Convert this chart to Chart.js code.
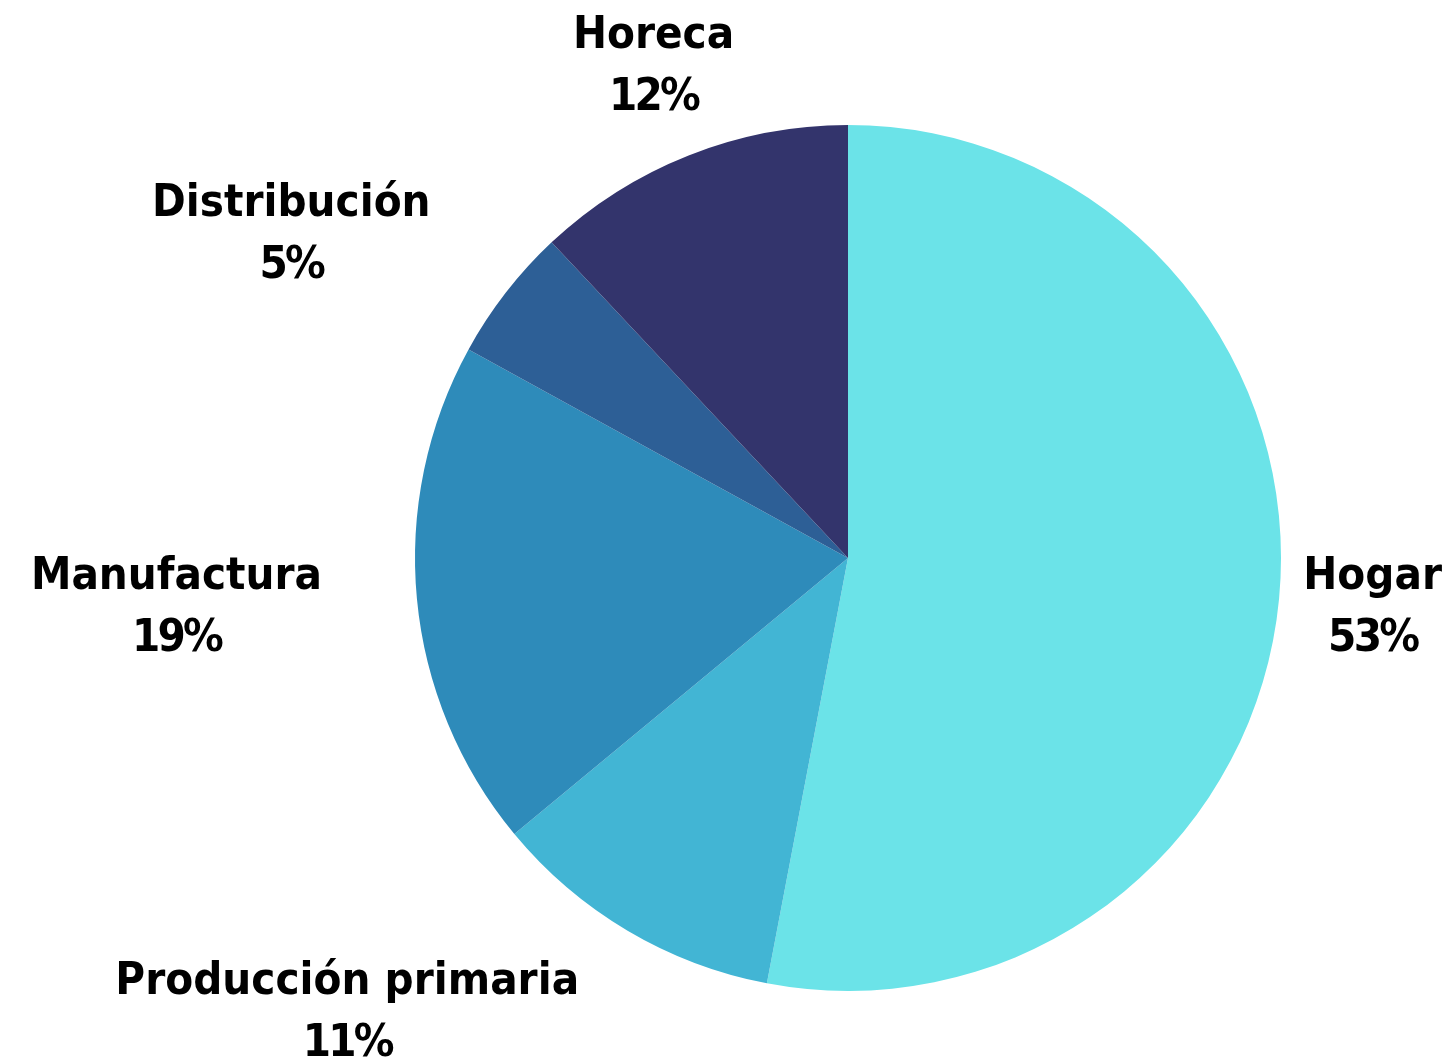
<!DOCTYPE html>
<html>
<head>
<meta charset="utf-8">
<script src="https://cdn.jsdelivr.net/npm/chart.js@4"></script>
<style>
  html, body { margin: 0; padding: 0; background: #fff; }
  #wrap { width: 1453px; height: 1061px; }
</style>
</head>
<body>
<div id="wrap"><canvas id="pie" width="1453" height="1061"></canvas></div>
<script>
var categorias = ['Hogar', 'Producción primaria', 'Manufactura', 'Distribución', 'Horeca'];
var porcentajes = [53, 11, 19, 5, 12];
var colores = ['#6be3e8', '#42b5d4', '#2e8bba', '#2d5f96', '#33346c'];

// etiquetas fuera del pastel, estilo Excel (nombre arriba, porcentaje abajo)
var etiquetasFuera = {
    id: 'etiquetasFuera',
    afterDatasetsDraw: function (chart) {
        var ctx = chart.ctx;
        var meta = chart.getDatasetMeta(0);
        var escala = 0.925; // letra algo estrecha, como Verdana en Excel
        ctx.save();
        ctx.fillStyle = '#000';
        ctx.textBaseline = 'middle';
        ctx.textAlign = 'center';
        ctx.font = 'bold 44px "DejaVu Sans"';

        function escribe(txt, x, y, esp) {
            ctx.save();
            ctx.letterSpacing = esp;
            ctx.translate(x, y);
            ctx.scale(escala, 1);
            ctx.fillText(txt, 0, 0);
            ctx.restore();
        }

        meta.data.forEach(function (arc, i) {
            var ang = (arc.startAngle + arc.endAngle) / 2;
            var r = arc.outerRadius * 1.22;
            var px = arc.x + Math.cos(ang) * r;
            var py = arc.y + Math.sin(ang) * r + 1;

            ctx.letterSpacing = '0px';
            var w1 = ctx.measureText(categorias[i]).width * escala;
            var texto2 = porcentajes[i] + '%';
            ctx.letterSpacing = '-3px';
            var w2 = ctx.measureText(texto2).width * escala;
            var w = Math.max(w1, w2);

            var c = Math.cos(ang);
            var cx = px;
            if (c < -0.5) cx = px - w / 2;
            else if (c > 0.5) cx = px + w / 2;
            // que no se salga del lienzo
            cx = Math.min(cx, chart.width - 11 - w / 2);
            cx = Math.max(cx, 11 + w / 2);

            escribe(categorias[i], cx, py - 31, '0px');
            escribe(texto2, cx, py + 31, '-3px');
        });
        ctx.restore();
    }
};

var ctx = document.getElementById('pie').getContext('2d');
new Chart(ctx, {
    type: 'pie',
    data: {
        labels: categorias,
        datasets: [{ data: porcentajes, backgroundColor: colores, borderWidth: 0 }]
    },
    options: {
        responsive: false,
        animation: false,
        layout: { padding: { top: 125, bottom: 70, left: 415, right: 172 } },
        plugins: {
            legend: { display: false },
            tooltip: { enabled: false }
        }
    },
    plugins: [etiquetasFuera]
});
</script>
</body>
</html>
